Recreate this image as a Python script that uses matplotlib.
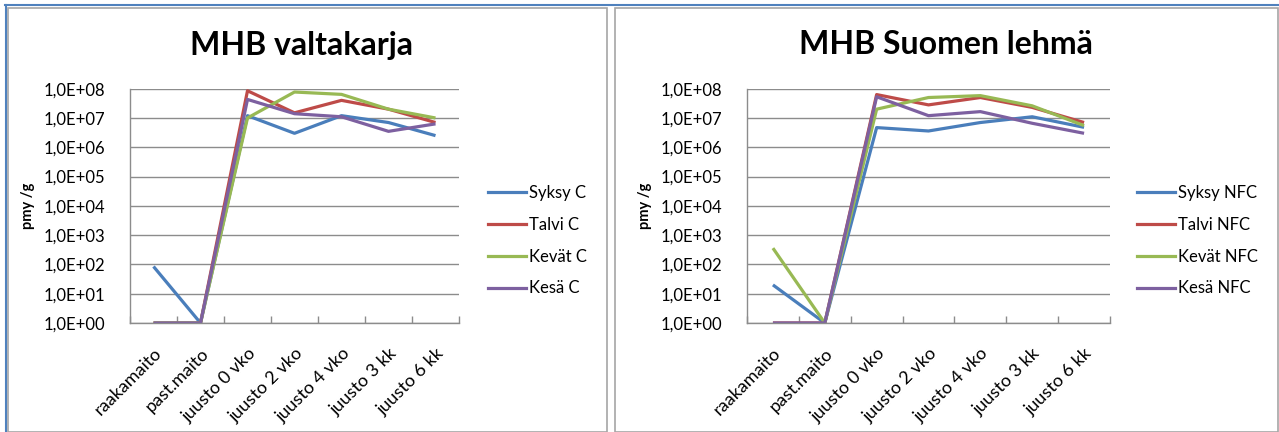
import numpy as np
import matplotlib
matplotlib.use("Agg")
import matplotlib.pyplot as plt
from matplotlib.ticker import FixedLocator, FuncFormatter
from matplotlib.lines import Line2D
from matplotlib.patches import Rectangle

plt.rcParams['font.family'] = ['Lato', 'DejaVu Sans']

categories = ['raakamaito', 'past.maito', 'juusto 0 vko', 'juusto 2 vko',
              'juusto 4 vko', 'juusto 3 kk', 'juusto 6 kk']

# MHB valtakarja (C)
syksy_c = [85, 1, 1.2e7, 3.0e6, 1.2e7, 7.0e6, 2.5e6]
talvi_c = [1, 1, 8.5e7, 1.5e7, 4.0e7, 2.0e7, 7.0e6]
kevat_c = [1, 1, 1.0e7, 7.7e7, 6.4e7, 2.0e7, 1.0e7]
kesa_c = [1, 1, 4.3e7, 1.4e7, 1.1e7, 3.5e6, 6.3e6]

# MHB Suomen lehmä (NFC)
syksy_nfc = [20, 1, 4.7e6, 3.6e6, 7.0e6, 1.1e7, 4.8e6]
talvi_nfc = [1, 1, 6.3e7, 2.8e7, 5.0e7, 2.3e7, 7.0e6]
kevat_nfc = [360, 1, 2.0e7, 5.0e7, 5.8e7, 2.6e7, 5.5e6]
kesa_nfc = [1, 1, 5.3e7, 1.2e7, 1.65e7, 6.6e6, 3.0e6]

colors = ['#4A7EBB', '#BE4B48', '#98B954', '#7D60A0']

W, H = 1279, 432
fig = plt.figure(figsize=(W / 100, H / 100), dpi=100)


def px_rect(x0, y0, x1, y1):
    # pixel box (top-left origin) -> figure fraction
    return [x0 / W, 1 - y1 / H, (x1 - x0) / W, (y1 - y0) / H]


def sci_fmt(v, pos):
    e = int(round(np.log10(v)))
    return '1,0E+%02d' % e


def draw_panel(plot_box, title, title_x, series, labels, legend_x):
    ax = fig.add_axes(px_rect(*plot_box))
    x = np.arange(len(categories))
    for vals, col, lab in zip(series, colors, labels):
        ax.plot(x, vals, color=col, lw=2.3, label=lab, solid_capstyle='butt')
    ax.set_yscale('log')
    ax.set_ylim(1, 1e8)
    ax.set_xlim(-0.5, len(categories) - 0.5)
    ax.yaxis.set_major_locator(FixedLocator([10.0 ** k for k in range(9)]))
    ax.yaxis.set_minor_locator(FixedLocator([]))
    ax.yaxis.set_major_formatter(FuncFormatter(sci_fmt))
    ax.grid(axis='y', color='#8C8C8C', lw=1.0)
    ax.set_axisbelow(True)
    ax.set_xticks(x)
    ax.set_xticklabels(categories, rotation=45, ha='right', va='top',
                       rotation_mode='anchor', fontsize=13)
    ax.set_xticks(np.arange(len(categories) + 1) - 0.5, minor=True)
    ax.tick_params(axis='x', which='major', length=0, pad=16)
    ax.tick_params(axis='x', which='minor', length=5, direction='in',
                   color='#8C8C8C', width=1.0)
    ax.tick_params(axis='y', length=0, pad=18, labelsize=12)
    for s in ['top', 'right']:
        ax.spines[s].set_visible(False)
    for s in ['left', 'bottom']:
        ax.spines[s].set_color('#8C8C8C')
        ax.spines[s].set_linewidth(1.0)
    ax.set_ylabel('pmy /g', fontsize=10.5, fontweight='bold', labelpad=6)
    fig.text(title_x / W, 1 - 45 / H, title, fontsize=23, fontweight='bold',
             ha='center', va='center')
    handles = [Line2D([], [], color=c, lw=2.3) for c in colors]
    fig.legend(handles, labels, loc='upper left',
               bbox_to_anchor=(legend_x / W, 1 - 185 / H),
               frameon=False, fontsize=12, handlelength=2.3,
               handletextpad=0.15, labelspacing=0.95,
               borderpad=0, borderaxespad=0)
    return ax


# panel frames and outer selection lines
for x0, x1 in [(8, 607), (615, 1278)]:
    fig.patches.append(Rectangle((x0 / W, 0), (x1 - x0) / W, 1 - 8 / H,
                                 transform=fig.transFigure, fill=False,
                                 edgecolor='#A6A6A6', lw=1.2))
fig.lines.append(Line2D([5 / W, 1], [1 - 5 / H, 1 - 5 / H],
                        transform=fig.transFigure, color='#4F81BD', lw=1.5))
fig.lines.append(Line2D([6 / W, 6 / W], [0, 1 - 5 / H],
                        transform=fig.transFigure, color='#4F81BD', lw=1.5))

draw_panel((130, 88.7, 459, 323), 'MHB valtakarja', 302,
           [syksy_c, talvi_c, kevat_c, kesa_c],
           ['Syksy C', 'Talvi C', 'Kevät C', 'Kesä C'], 488)
draw_panel((747, 88.7, 1110, 323), 'MHB Suomen lehmä', 946,
           [syksy_nfc, talvi_nfc, kevat_nfc, kesa_nfc],
           ['Syksy NFC', 'Talvi NFC', 'Kevät NFC', 'Kesä NFC'], 1137)

fig.savefig('out.png', dpi=100)
